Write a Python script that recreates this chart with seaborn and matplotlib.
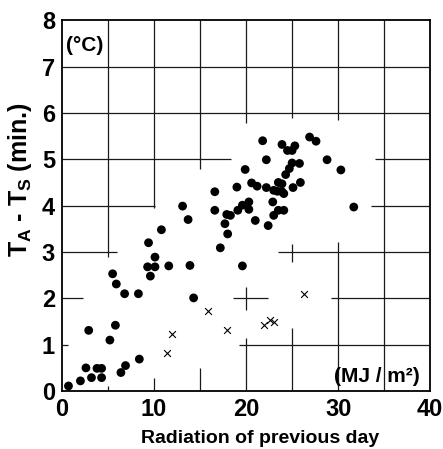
import matplotlib
matplotlib.use('Agg')
import matplotlib.pyplot as plt
from matplotlib import font_manager
import seaborn as sns
import pandas as pd

# filled dots
dot_x = [0.7, 2.0, 2.6, 2.9, 3.2, 3.8, 4.3, 4.3, 5.2, 5.5, 5.8, 5.9, 6.4, 6.9, 6.8,
         8.3, 8.4, 9.3, 9.4, 9.6, 10.1, 10.1, 10.8, 11.6, 13.1, 13.7, 13.9, 14.3,
         16.6, 16.6, 17.2, 17.7, 17.9, 18.0, 18.3, 19.0, 19.1, 19.6, 19.6, 19.9,
         20.3, 20.3, 20.6, 21.0, 21.2, 21.8, 22.2, 22.2, 22.4, 22.9, 23.0, 23.0,
         23.4, 23.5, 23.5, 23.9, 23.9, 23.9, 24.1, 24.1, 24.3, 24.5, 24.7, 25.0,
         25.3, 25.0, 25.1, 25.8, 25.9, 26.9, 27.6, 28.8, 30.3, 31.7]
dot_y = [0.11, 0.22, 0.50, 1.31, 0.29, 0.49, 0.49, 0.29, 1.10, 2.53, 1.42, 2.31, 0.40, 0.55, 2.10,
         2.10, 0.69, 2.68, 3.20, 2.48, 2.68, 2.89, 3.48, 2.70, 3.99, 3.70, 2.71, 2.01,
         4.30, 3.90, 3.09, 3.61, 3.81, 3.39, 3.79, 4.40, 3.90, 4.01, 2.70, 4.78,
         4.08, 3.92, 4.49, 3.68, 4.42, 5.40, 4.99, 4.39, 3.57, 4.08, 4.33, 3.79,
         4.31, 4.50, 3.90, 5.32, 4.47, 4.30, 4.26, 3.90, 4.67, 5.19, 4.80, 5.19,
         5.29, 4.92, 4.39, 4.91, 4.50, 5.48, 5.39, 4.99, 4.77, 3.97]

# crosses
cross_x = [11.4, 12.0, 15.9, 17.9, 21.9, 22.6, 23.0, 26.3]
cross_y = [0.83, 1.23, 1.72, 1.31, 1.42, 1.53, 1.49, 2.10]

x_ticks = [0, 10, 20, 30, 40]
y_ticks = [0, 1, 2, 3, 4, 5, 6, 7, 8]

dots = pd.DataFrame({'x': dot_x, 'y': dot_y})
crosses = pd.DataFrame({'x': cross_x, 'y': cross_y})

names = {f.name for f in font_manager.fontManager.ttflist}
narrow = 'Liberation Sans Narrow' if 'Liberation Sans Narrow' in names else 'Liberation Sans'

sns.set_theme(style='white')
plt.rcParams['font.family'] = ['Liberation Sans', 'DejaVu Sans']
plt.rcParams['font.weight'] = 'bold'
plt.rcParams['text.color'] = 'black'
plt.rcParams['axes.labelcolor'] = 'black'
plt.rcParams['xtick.color'] = 'black'
plt.rcParams['ytick.color'] = 'black'
plt.rcParams['mathtext.fontset'] = 'custom'
plt.rcParams['mathtext.rm'] = 'Liberation Sans:bold'
plt.rcParams['mathtext.it'] = 'Liberation Sans:bold'
plt.rcParams['mathtext.bf'] = 'Liberation Sans:bold'

fig = plt.figure(figsize=(4.43, 4.49), dpi=100)
ax = fig.add_axes([0.140, 0.129, 0.831, 0.826])

# broken grid, as in the original figure
hsegs = [(7, 0, 40), (6, 0, 40), (5, 0, 18.4), (5, 34, 40), (4, 0, 10.1), (4, 33.6, 40),
         (3, 0, 6.0), (3, 23.5, 40), (2, 0, 2.3), (2, 18.6, 22.4), (2, 29.2, 40),
         (1, 0, 0.7), (1, 19.2, 40)]
vsegs = [(5, 2.9, 8), (5, 0, 0.12), (10, 3.95, 8), (10, 0, 0.28), (15, 4.8, 8), (15, 0, 0.5),
         (20, 5.78, 8), (20, 1.75, 2.25), (20, 0, 1.15), (25, 5.9, 8), (25, 2.78, 3.17),
         (25, 0, 1.35), (30, 5.84, 8), (30, 0, 3.22), (35, 0, 8)]
for yy, x0, x1 in hsegs:
    ax.hlines(yy, x0, x1, color='#1a1a1a', lw=0.9, zorder=1)
for xx, y0, y1 in vsegs:
    ax.vlines(xx, y0, y1, color='#1a1a1a', lw=0.9, zorder=1)

sns.scatterplot(data=dots, x='x', y='y', ax=ax, color='black', s=40,
                edgecolor='none', zorder=3)
sns.scatterplot(data=crosses, x='x', y='y', ax=ax, color='black', marker='x',
                s=24, linewidth=0.8, zorder=3)

ax.set_xlim(0, 40)
ax.set_ylim(0, 8)
ax.set_xticks(x_ticks)
ax.set_yticks(y_ticks)
ax.tick_params(length=0, pad=5)
for lab in ax.get_xticklabels() + ax.get_yticklabels():
    lab.set_fontfamily(narrow)
    lab.set_fontsize(17)
    lab.set_fontweight('bold')
for sp in ax.spines.values():
    sp.set_color('black')
    sp.set_linewidth(1.3)

ax.set_xlabel('Radiation of previous day', fontsize=14, fontweight='bold')
ax.set_ylabel(r'T$_{\rm A}$ - T$_{\rm S}$ (min.)', fontsize=18, fontweight='bold')
ax.xaxis.set_label_coords(0.538, -0.105)
ax.yaxis.set_label_coords(-0.075, 0.57)

ax.text(0.45, 7.46, '(°C)', fontsize=15, fontweight='bold', va='center', ha='left')
ax.text(34.2, 0.32, '(MJ / m²)', fontsize=15, fontweight='bold', va='center', ha='center')

fig.savefig('out.png', dpi=100, facecolor='white')
plt.close()
